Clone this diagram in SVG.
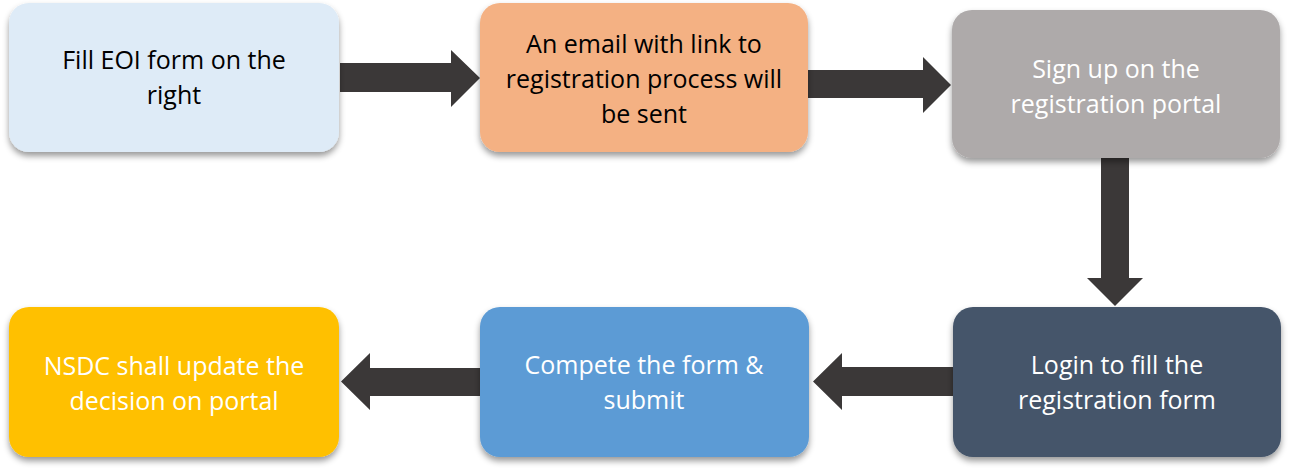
<svg xmlns="http://www.w3.org/2000/svg" width="1289" height="472" viewBox="0 0 1289 472">
<defs>
<filter id="sh" x="-10%" y="-10%" width="120%" height="130%">
<feDropShadow dx="0" dy="4" stdDeviation="3" flood-color="#000" flood-opacity="0.4"/>
</filter>
</defs>
<style>
.box{filter:url(#sh);}
.t{font-family:"Open Sans","Liberation Sans",sans-serif;font-size:25px;text-anchor:middle;}
.dk{fill:#000;}
.lt{fill:#fff;}
.arr{fill:#3B3838;}
</style>
<rect width="1289" height="472" fill="#fff"/>
<g id="connectors">
<polygon class="arr" points="340,63 451,63 451,50 480,78 451,107 451,92 340,92"/>
<polygon class="arr" points="808,70 923,70 923,57 951,85 923,113 923,98 808,98"/>
<polygon class="arr" points="1101,158 1129,158 1129,278 1143,278 1115,306 1087,278 1101,278"/>
<polygon class="arr" points="953,367 842,367 842,353 813,381.5 842,410 842,396 953,396"/>
<polygon class="arr" points="483,368 370,368 370,353 341,381.5 370,410 370,396 483,396"/>
</g>
<g id="n1">
<rect class="box" x="9" y="3" width="330" height="149" rx="20" fill="#DEEBF7"/>
<text class="t dk" x="174" y="69">Fill EOI form on the</text>
<text class="t dk" x="174" y="104">right</text>
</g>
<g id="n2">
<rect class="box" x="480" y="3" width="328" height="149" rx="20" fill="#F4B183"/>
<text class="t dk" x="644" y="53">An email with link to</text>
<text class="t dk" x="644" y="88">registration process will</text>
<text class="t dk" x="644" y="123">be sent</text>
</g>
<g id="n3">
<rect class="box" x="952" y="10" width="328" height="148" rx="20" fill="#AEAAAA"/>
<text class="t lt" x="1116" y="78">Sign up on the</text>
<text class="t lt" x="1116" y="113">registration portal</text>
</g>
<g id="n4">
<rect class="box" x="953" y="307" width="328" height="150" rx="20" fill="#44546A"/>
<text class="t lt" x="1117" y="374">Login to fill the</text>
<text class="t lt" x="1117" y="409">registration form</text>
</g>
<g id="n5">
<rect class="box" x="480" y="307" width="329" height="150" rx="20" fill="#5B9BD5"/>
<text class="t lt" x="644" y="374">Compete the form &amp;</text>
<text class="t lt" x="644" y="409">submit</text>
</g>
<g id="n6">
<rect class="box" x="9" y="307" width="330" height="150" rx="20" fill="#FFC000"/>
<text class="t lt" x="174" y="375">NSDC shall update the</text>
<text class="t lt" x="174" y="410">decision on portal</text>
</g>
</svg>
